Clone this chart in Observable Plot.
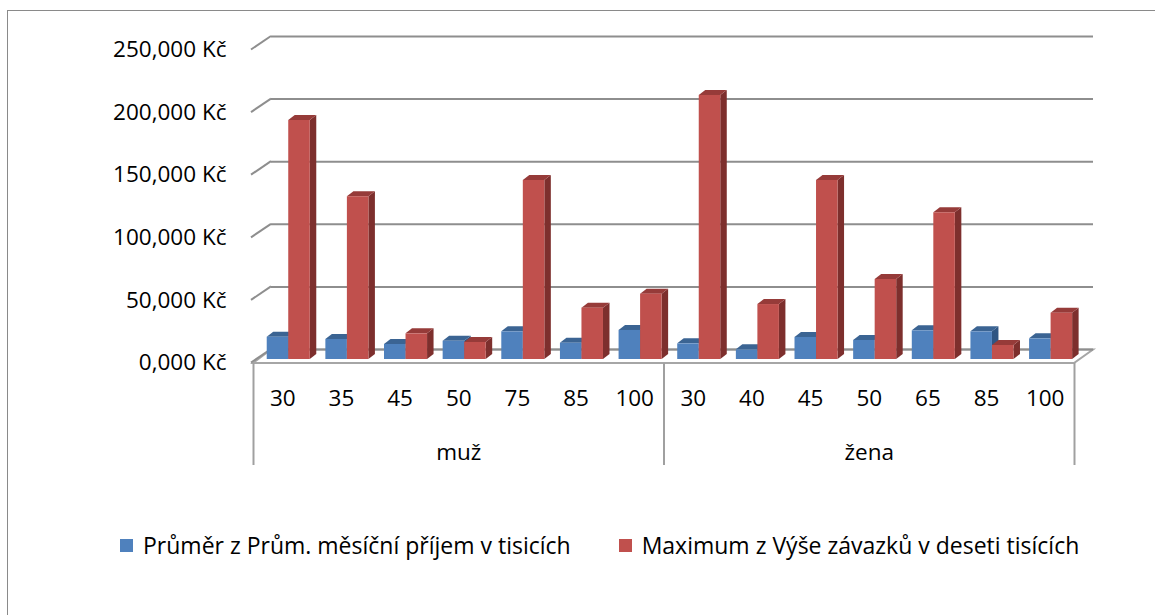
<!DOCTYPE html>
<html>
<head>
<meta charset="utf-8">
<script src="https://cdn.jsdelivr.net/npm/d3@7"></script>
<script src="https://cdn.jsdelivr.net/npm/@observablehq/plot@0.6"></script>
<style>
  html, body { margin: 0; padding: 0; background: #fff; overflow: hidden; width: 1155px; height: 615px; }
  #frame { position: absolute; left: 7px; top: 10px; width: 1300px; height: 800px; border: 1.5px solid #8a8a8a; box-sizing: border-box; }
  #chart { position: absolute; left: 0; top: 0; }
  #legend { position: absolute; left: 120px; top: 529px; display: flex; align-items: center; font-family: "Open Sans", sans-serif; font-size: 23px; color: #000; white-space: nowrap; }
  .item { display: flex; align-items: center; }
  .sw { width: 13px; height: 13px; margin-right: 10px; }
</style>
</head>
<body>
<div id="frame"></div>
<div id="chart"></div>
<div id="legend"></div>
<script>
// ---- data ----
const groups = ["muž", "žena"];
const groupSize = [7, 7];
const categories = ["30", "35", "45", "50", "75", "85", "100", "30", "40", "45", "50", "65", "85", "100"];
const income = [17800, 16000, 12000, 14600, 22100, 13000, 23200, 12500, 7700, 17600, 15200, 22900, 22100, 16500];
const debts = [190900, 130000, 20500, 13600, 143000, 41000, 52200, 210900, 43900, 143000, 63900, 117200, 11200, 37000];
const yTicks = [0, 50000, 100000, 150000, 200000, 250000];
const seriesNames = ["Průměr z Prům. měsíční příjem v tisicích", "Maximum z Výše závazků v deseti tisících"];

// ---- styling ----
const blue = {front: "#4F81BD", top: "#3B6493", side: "#2F5583"};
const red = {front: "#C0504D", top: "#963B39", side: "#7D2F2D"};
const gridColor = "#8e8e8e";
const depth = {dx: 18, dy: -13.5};   // wall depth in px
const barDepth = {dx: 6.5, dy: -5};  // bar depth in px
const barOffset = 0.234, barWidth = 0.367;

const fmt = v => (v / 1000).toFixed(3).replace(".", ",") + " Kč";

function floorMark(index, scales) {
  const {x, y} = scales;
  const g = d3.create("svg:g");
  const x0 = x(0), x1 = x(categories.length), yf = y(0) + 4;
  g.append("polygon")
    .attr("points", [[x0, yf], [x1, yf], [x1 + depth.dx + 1, yf + depth.dy], [x0 + depth.dx, yf + depth.dy]].join(" "))
    .attr("fill", "#fff").attr("stroke", "#a6a6a6").attr("stroke-width", 2);
  return g.node();
}

function wallTicks(index, scales) {
  const {x, y} = scales;
  const g = d3.create("svg:g");
  for (const v of yTicks) {
    g.append("line")
      .attr("x1", x(0) - 2).attr("y1", y(v) + 3.5)
      .attr("x2", x(0) + depth.dx).attr("y2", y(v) + 3.5 + depth.dy)
      .attr("stroke", gridColor).attr("stroke-width", 2);
  }
  return g.node();
}

function bars3D(values, col, off) {
  return (index, scales) => {
    const {x, y} = scales;
    const g = d3.create("svg:g");
    values.forEach((v, i) => {
      const xa = x(i + off), xb = x(i + off + barWidth), yt = y(v), yb = y(0);
      const dx = barDepth.dx, dy = barDepth.dy;
      g.append("polygon").attr("fill", col.side)
        .attr("points", [[xb, yb], [xb + dx, yb + dy], [xb + dx, yt + dy], [xb, yt]].join(" "));
      g.append("polygon").attr("fill", col.top)
        .attr("points", [[xa, yt], [xa + dx, yt + dy], [xb + dx, yt + dy], [xb, yt]].join(" "));
      g.append("rect").attr("fill", col.front)
        .attr("x", xa).attr("y", yt).attr("width", xb - xa).attr("height", yb - yt);
    });
    return g.node();
  };
}

const groupStarts = groupSize.map((s, i) => d3.sum(groupSize.slice(0, i)));
const boundaries = [0, ...groupSize.map((s, i) => d3.sum(groupSize.slice(0, i + 1)))];

const chart = Plot.plot({
  width: 1155,
  height: 515,
  marginLeft: 253,
  marginRight: 81,
  marginTop: 46,
  marginBottom: 156,
  x: {type: "linear", domain: [0, categories.length], axis: null},
  y: {domain: [0, 250000], axis: null},
  style: {fontFamily: "Open Sans, sans-serif", fontSize: "22.5px", background: "transparent", overflow: "visible"},
  marks: [
    floorMark,
    Plot.ruleY(yTicks, {y: d => d, dy: -10, insetLeft: 18, insetRight: -19, stroke: gridColor, strokeWidth: 2}),
    wallTicks,
    Plot.ruleX(boundaries, {x: d => d, insetTop: 317, insetBottom: -106, stroke: "#a0a0a0", strokeWidth: 2}),
    bars3D(income, blue, barOffset),
    bars3D(debts, red, barOffset + barWidth),
    Plot.text(yTicks, {x: 0, y: d => d, dy: 3.5, dx: -27, textAnchor: "end", text: fmt, fill: "#000"}),
    Plot.text(categories, {x: (d, i) => i + 0.5, y: () => 0, dy: 39, text: d => d, fill: "#000"}),
    Plot.text(groups, {x: (d, i) => groupStarts[i] + groupSize[i] / 2, y: () => 0, dy: 93, text: d => d, fill: "#000"})
  ]
});
document.getElementById("chart").appendChild(chart);

// legend
const legend = d3.select("#legend");
[blue.front, red.front].forEach((c, i) => {
  const it = legend.append("div").attr("class", "item").style("margin-right", i === 0 ? "48px" : "0");
  it.append("div").attr("class", "sw").style("background", c);
  it.append("span").text(seriesNames[i]);
});
</script>
</body>
</html>
